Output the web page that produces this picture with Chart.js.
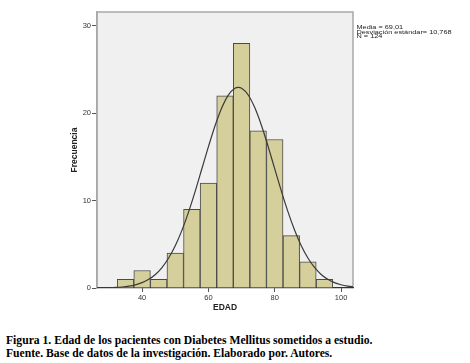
<!DOCTYPE html>
<html>
<head>
<meta charset="utf-8">
<script src="https://cdn.jsdelivr.net/npm/chart.js@4/dist/chart.umd.min.js"></script>
<style>
  html, body { margin: 0; padding: 0; background: #ffffff; }
  #wrap { position: relative; width: 470px; height: 363px; }
  #c { position: absolute; left: 0; top: 0; }
  .cap { position: absolute; left: 6px; font-family: "Liberation Serif", serif; font-weight: bold; font-size: 11.65px; color: #000; white-space: nowrap; line-height: 13px; }
</style>
</head>
<body>
<div id="wrap">
  <canvas id="c" width="470" height="320"></canvas>
  <div class="cap" style="top:334px">Figura 1. Edad de los pacientes con Diabetes Mellitus sometidos a estudio.</div>
  <div class="cap" style="top:347px">Fuente. Base de datos de la investigación. Elaborado por. Autores.</div>
</div>
<script>
// Histogram bins (centres, width 5) and counts
const binCenters = [35, 40, 45, 50, 55, 60, 65, 70, 75, 80, 85, 90, 95];
const binCounts  = [1, 2, 1, 4, 9, 12, 22, 28, 18, 17, 6, 3, 1];
// Fitted normal curve
const curveX = [26, 28, 30, 32, 34, 36, 38, 40, 42, 44, 46, 48, 50, 52, 54, 56, 58, 60, 62, 64, 66, 68, 69.01, 70, 72, 74, 76, 78, 80, 82, 84, 86, 88, 90, 92, 94, 96, 98, 100, 102, 104];
const curveY = [0.008, 0.016, 0.033, 0.063, 0.116, 0.209, 0.363, 0.61, 0.99, 1.55, 2.34, 3.43, 4.84, 6.6, 8.69, 11.07, 13.62, 16.18, 18.58, 20.61, 22.09, 22.87, 22.97, 22.87, 22.1, 20.63, 18.61, 16.21, 13.64, 11.1, 8.72, 6.62, 4.85, 3.44, 2.35, 1.55, 0.99, 0.61, 0.37, 0.21, 0.12];
const yTicks = [0, 10, 20, 30];
const xTicks = [40, 60, 80, 100];
const statLines = ["Media = 69,01", "Desviación estándar= 10,768", "N = 124"];

const FONT = "'Liberation Sans', Arial, sans-serif";

const plotBg = {
  id: 'plotBg',
  beforeDraw(chart) {
    const {ctx, chartArea: a} = chart;
    ctx.save();
    ctx.fillStyle = '#f0f0f0';
    ctx.fillRect(a.left, a.top, a.right - a.left, a.bottom - a.top);
    ctx.strokeStyle = '#a8a8a8';
    ctx.lineWidth = 1.5;
    ctx.beginPath();
    ctx.moveTo(a.left, a.bottom);
    ctx.lineTo(a.left, a.top);
    ctx.lineTo(a.right, a.top);
    ctx.lineTo(a.right, a.bottom);
    ctx.stroke();
    ctx.restore();
  },
  afterDraw(chart) {
    const {ctx, chartArea: a} = chart;
    ctx.save();
    ctx.fillStyle = '#222';
    ctx.font = "6px " + FONT;
    ctx.textBaseline = 'middle';
    ctx.translate(a.right + 3.5, 0);
    ctx.scale(1.22, 1);
    statLines.forEach((t, i) => ctx.fillText(t, 0, 27.6 + i * 4.6));
    ctx.restore();
  }
};

new Chart(document.getElementById('c'), {
  type: 'bar',
  data: {
    datasets: [
      {
        type: 'line',
        data: curveX.map((x, i) => ({x: x, y: curveY[i]})),
        borderColor: '#3a3a3a',
        borderWidth: 1.2,
        pointRadius: 0,
        cubicInterpolationMode: 'monotone',
        fill: false,
        order: 0
      },
      {
        type: 'bar',
        data: binCenters.map((x, i) => ({x: x, y: binCounts[i]})),
        backgroundColor: '#d4cf9b',
        borderColor: '#4a4a4a',
        borderWidth: 1,
        barPercentage: 1,
        categoryPercentage: 1,
        order: 1
      }
    ]
  },
  options: {
    responsive: false,
    animation: false,
    layout: { padding: { top: 12, right: 117, left: 0, bottom: 0 } },
    plugins: { legend: { display: false }, tooltip: { enabled: false } },
    scales: {
      x: {
        type: 'linear',
        offset: false,
        min: 26.4,
        max: 103.6,
        afterBuildTicks(s) { s.ticks = xTicks.map(v => ({value: v})); },
        afterFit(s) { s.height = 32; },
        border: { color: '#333', width: 1.2 },
        grid: { offset: false, drawOnChartArea: false, drawTicks: true, tickLength: 4, color: '#555' },
        ticks: { color: '#333', font: { family: FONT, size: 7.5 }, padding: 1, maxRotation: 0 },
        title: { display: true, text: 'EDAD', color: '#222', font: { family: FONT, size: 8.5, weight: 'bold' }, padding: { top: 0, bottom: 7.5 } }
      },
      y: {
        min: 0,
        max: 31.6,
        afterBuildTicks(s) { s.ticks = yTicks.map(v => ({value: v})); },
        afterFit(s) { s.width = 97; },
        border: { color: '#a8a8a8', width: 1.5 },
        grid: { drawOnChartArea: false, drawTicks: true, tickLength: 5, color: '#555' },
        ticks: { color: '#333', font: { family: FONT, size: 7.5 }, padding: 1 },
        title: { display: true, text: 'Frecuencia', color: '#222', font: { family: FONT, size: 8.5, weight: 'bold' }, padding: { top: 70, bottom: 0 } }
      }
    }
  },
  plugins: [plotBg]
});
</script>
</body>
</html>
